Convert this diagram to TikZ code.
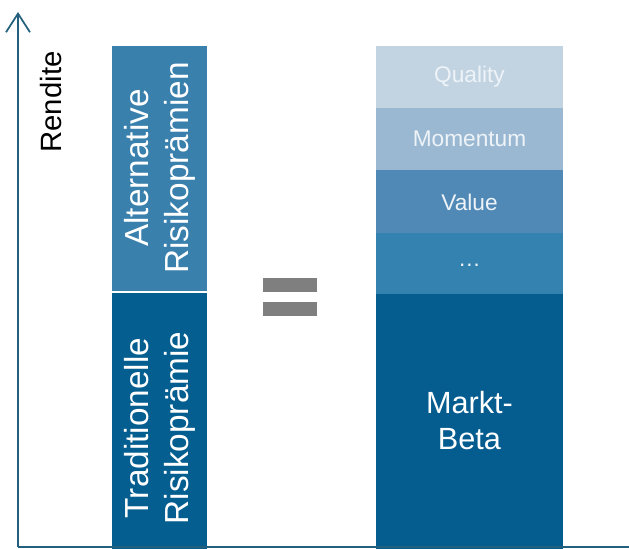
\documentclass[tikz,border=0pt]{standalone}
\usepackage{fontspec}
\setmainfont{Liberation Sans}
\usetikzlibrary{arrows.meta}

\definecolor{axisblue}{HTML}{23607E}
\definecolor{altblue}{HTML}{3A80AD}
\definecolor{tradblue}{HTML}{055E90}
\definecolor{qualityblue}{HTML}{C2D3E2}
\definecolor{momentumblue}{HTML}{9AB8D2}
\definecolor{valueblue}{HTML}{5089B6}
\definecolor{restblue}{HTML}{3482B0}
\definecolor{marktblue}{HTML}{055C8F}
\definecolor{eqgray}{HTML}{7F7F7F}
\definecolor{paletext}{HTML}{EEF3F8}

\tikzset{
  barlabel/.style={text=white, rotate=90, align=center, font=\fontsize{25}{30}\selectfont},
  factorlabel/.style={text=paletext, font=\fontsize{17}{20}\selectfont},
}

\begin{document}
\begin{tikzpicture}[x=0.75pt,y=-0.75pt]
\useasboundingbox (0,0) rectangle (629,549);

%draws the left column, alternative on top of traditional
\fill[altblue] (112,46) rectangle (207,291);
\fill[tradblue] (112,293) rectangle (207,549);
\node[barlabel] (alt) at (159.5,168) {Alternative\\Risikoprämien};
\node[barlabel] (trad) at (159.5,428) {Traditionelle\\Risikoprämie};

%draws the equals sign
\fill[eqgray] (263,278) rectangle (317,292);
\fill[eqgray] (263,302) rectangle (317,316);

%draws the right column of factors
\fill[qualityblue] (376,46) rectangle (563,108);
\fill[momentumblue] (376,108) rectangle (563,170);
\fill[valueblue] (376,170) rectangle (563,233);
\fill[restblue] (376,233) rectangle (563,294);
\fill[marktblue] (376,294) rectangle (563,549);

%label factors
\node[factorlabel] (quality) at (469.5,77) {Quality};
\node[factorlabel] (momentum) at (469.5,139) {Momentum};
\node[factorlabel] (value) at (469.5,202) {Value};
\node[factorlabel] (rest) at (469.5,265) {\dots};
\node[text=white, align=center, font=\fontsize{23}{27}\selectfont] (markt) at (469.5,421) {Markt-\\Beta};

%draws the axes
\coordinate (origin) at (18,547);
\coordinate (ytop) at (18,12);
\coordinate (xend) at (629,547);
\draw[axisblue, line width=1.5pt, -{Straight Barb[length=14pt, width=18pt, line width=1.3pt]}] (origin) -- (ytop);
\draw[axisblue, line width=1.5pt] (origin) -- (xend);
\node[rotate=90, font=\fontsize{22}{26}\selectfont] (rendite) at (51,102) {Rendite};

\end{tikzpicture}
\end{document}
